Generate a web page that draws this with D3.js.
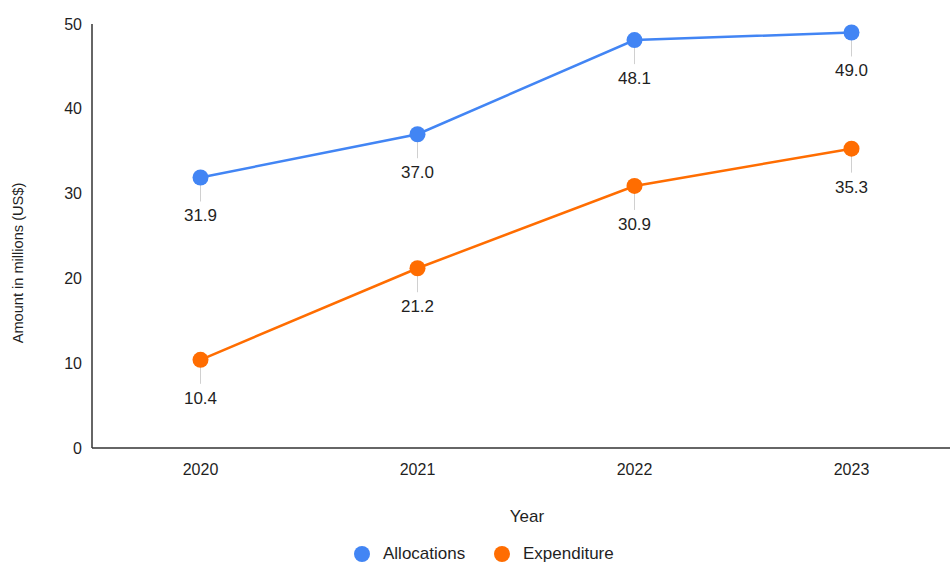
<!DOCTYPE html>
<html><head><meta charset="utf-8">
<script src="https://cdn.jsdelivr.net/npm/d3@7"></script>
<style>body{margin:0;background:#fff;font-family:"Liberation Sans",Arial,sans-serif}</style>
</head><body>
<svg id="c" width="950" height="563"></svg>
<script>
const years = ["2020","2021","2022","2023"];
const allocations = [31.9, 37.0, 48.1, 49.0];
const expenditure = [10.4, 21.2, 30.9, 35.3];
const yTicks = [0,10,20,30,40,50];
const seriesNames = ["Allocations","Expenditure"];
const colors = ["#4285F4","#FF6D01"];

(function(){
const svg = d3.select("#c");
const mL = 92, mT = 24, mB = 448, mR = 960;
const x = d3.scaleBand().domain(years).range([mL, mR]);
const y = d3.scaleLinear().domain([0,50]).range([mB, mT]);
const txt = "#1f1f1f";

svg.append("line").attr("x1",mL).attr("x2",mL).attr("y1",mT).attr("y2",mB).attr("stroke","#333").attr("stroke-width",1.5);
svg.append("line").attr("x1",mL).attr("x2",950).attr("y1",mB).attr("y2",mB).attr("stroke","#333").attr("stroke-width",1.5);

svg.selectAll(".yt").data(yTicks).enter().append("text")
  .attr("x", 82).attr("y", d=>y(d)).attr("dy","0.35em")
  .attr("text-anchor","end").attr("font-size",16).attr("fill",txt).text(d=>d);
svg.selectAll(".xt").data(years).enter().append("text")
  .attr("x", d=>x(d)+x.bandwidth()/2).attr("y", 475)
  .attr("text-anchor","middle").attr("font-size",16).attr("fill",txt).text(d=>d);

svg.append("text").attr("transform","translate(23,263) rotate(-90)")
  .attr("text-anchor","middle").attr("font-size",14.6).attr("fill",txt).text("Amount in millions (US$)");
svg.append("text").attr("x",527).attr("y",522).attr("text-anchor","middle").attr("font-size",17).attr("fill",txt).text("Year");

const cx = d => x(d)+x.bandwidth()/2;
[allocations, expenditure].forEach((vals,i)=>{
  const pts = years.map((yr,j)=>({yr, v: vals[j]}));
  const g = svg.append("g");
  g.selectAll(".cn").data(pts).enter().append("line")
    .attr("x1",d=>cx(d.yr)).attr("x2",d=>cx(d.yr))
    .attr("y1",d=>y(d.v)).attr("y2",d=>y(d.v)+24)
    .attr("stroke","#d0d0d0").attr("stroke-width",1);
  g.append("path").datum(pts)
    .attr("d", d3.line().x(d=>cx(d.yr)).y(d=>y(d.v)))
    .attr("fill","none").attr("stroke",colors[i]).attr("stroke-width",2.5);
  g.selectAll(".pt").data(pts).enter().append("circle")
    .attr("cx",d=>cx(d.yr)).attr("cy",d=>y(d.v)).attr("r",8).attr("fill",colors[i]);
  g.selectAll(".lb").data(pts).enter().append("text")
    .attr("x",d=>cx(d.yr)).attr("y",d=>y(d.v)+44)
    .attr("text-anchor","middle").attr("font-size",17).attr("fill",txt)
    .text(d=>d.v.toFixed(1));
});

const lg = [{n:seriesNames[0],c:colors[0],x:362},{n:seriesNames[1],c:colors[1],x:502}];
lg.forEach(l=>{
  svg.append("circle").attr("cx",l.x).attr("cy",554).attr("r",8).attr("fill",l.c);
  svg.append("text").attr("x",l.x+21).attr("y",559).attr("font-size",17).attr("fill",txt).text(l.n);
});
})();
</script>
</body></html>
